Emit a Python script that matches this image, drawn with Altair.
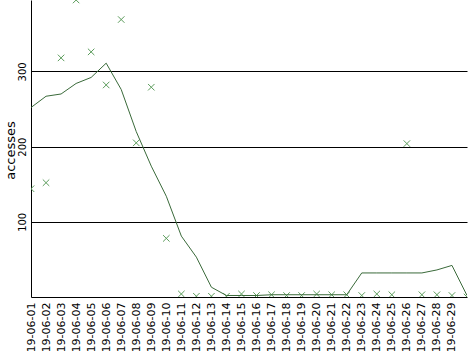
import altair as alt
import pandas as pd

dates = ["19-06-01", "19-06-02", "19-06-03", "19-06-04", "19-06-05", "19-06-06",
         "19-06-07", "19-06-08", "19-06-09", "19-06-10", "19-06-11", "19-06-12",
         "19-06-13", "19-06-14", "19-06-15", "19-06-16", "19-06-17", "19-06-18",
         "19-06-19", "19-06-20", "19-06-21", "19-06-22", "19-06-23", "19-06-24",
         "19-06-25", "19-06-26", "19-06-27", "19-06-28", "19-06-29", "19-06-30"]
accesses = [144, 152, 318, 395, 326, 282, 369, 205, 279, 78, 4, 1, 1, 1, 4,
            2, 3, 2, 2, 4, 3, 3, 2, 4, 3, 204, 3, 3, 2, 0]
smoothed = [252, 267, 270, 284, 292, 311, 276, 220, 174, 134, 81, 53, 13, 2, 2,
            2, 3, 3, 3, 3, 3, 3, 32, 32, 32, 32, 32, 36, 42, 2]

df = pd.DataFrame({"date": dates, "accesses": accesses, "smooth": smoothed})

FONT = "DejaVu Sans"

x_enc = alt.X(
    "date:O", sort=None,
    scale=alt.Scale(type="point", padding=0),
    axis=alt.Axis(title=None, labelAngle=270, labelAlign="right", labelBaseline="middle",
                  labelPadding=5, ticks=False, domainColor="black", domainWidth=1,
                  labelColor="black", labelFont=FONT, labelFontSize=11,
                  labelExpr="datum.value == '19-06-30' ? '' : datum.value",
                  grid=False, labelOverlap=False),
)

y_axis = alt.Axis(title="accesses", values=[100, 200, 300], grid=True, gridColor="black",
                  gridOpacity=1, gridWidth=1, ticks=False, domainColor="black", domainWidth=1,
                  labelAngle=270, labelAlign="center", labelBaseline="bottom", labelPadding=4,
                  labelColor="black", labelFont=FONT, labelFontSize=10,
                  titleFont=FONT, titleFontSize=13, titleFontWeight="normal", titleColor="black",
                  titleAngle=270, titleX=-21, titleY=150, titleAlign="center",
                  titleBaseline="middle")
y_scale = alt.Scale(domain=[0, 395], nice=False, zero=True)

base = alt.Chart(df)

points = base.mark_point(
    shape="M-1,-1L1,1M-1,1L1,-1", filled=False, strokeWidth=1, size=42,
    color="#5c9c5c", opacity=1, clip=True
).encode(x=x_enc, y=alt.Y("accesses:Q", scale=y_scale, axis=y_axis))

line = base.mark_line(color="#3a6a3a", strokeWidth=1, clip=True).encode(
    x=x_enc, y=alt.Y("smooth:Q", scale=y_scale, axis=y_axis)
)

chart = alt.layer(points, line).properties(
    width=436, height=297,
    autosize=alt.AutoSizeParams(type="none"),
    padding={"left": 31, "top": 0, "right": 1, "bottom": 54},
    background="white",
).configure_view(strokeWidth=0)

chart.save("out.html", embed_options={"renderer": "svg", "actions": False})
